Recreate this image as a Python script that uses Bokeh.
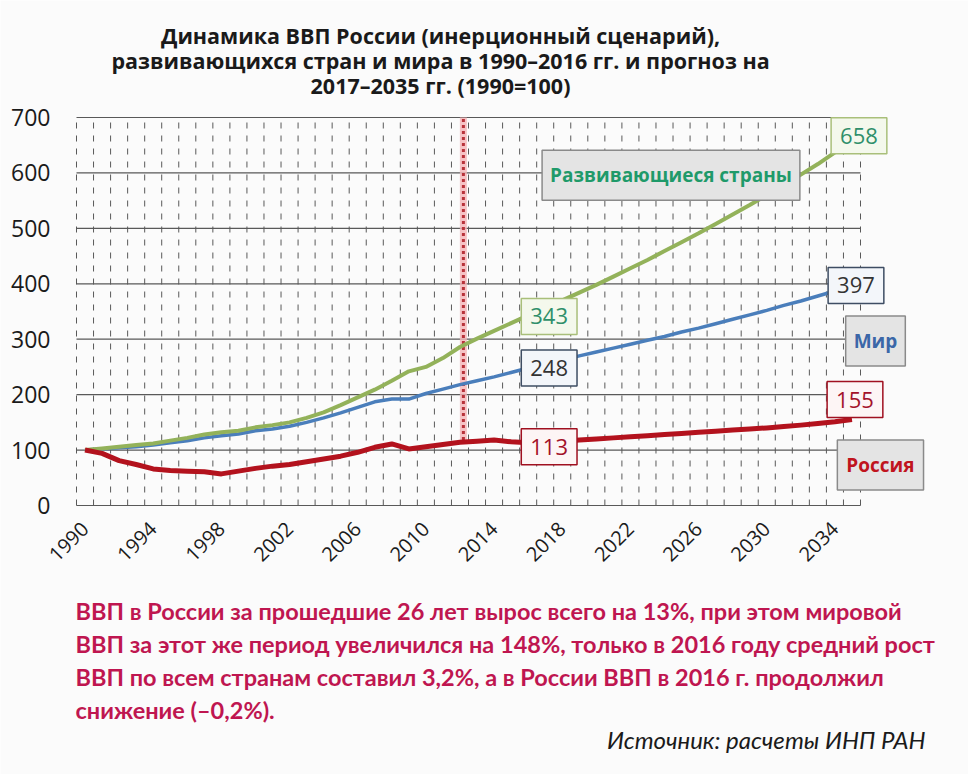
import math
from bokeh.plotting import figure
from bokeh.models import Label, FixedTicker, Range1d
from bokeh.embed import file_html
from bokeh.resources import INLINE

# ---------------- data ----------------
years = list(range(1990, 2036))
russia = [100, 94, 81, 74, 66, 63, 62, 61, 57, 62, 67, 71, 74, 79, 84, 89, 96, 105, 111, 102,
          106, 110, 114, 116, 118, 115, 113,
          114, 116, 118, 120, 122, 124, 126, 128, 130, 132, 134, 136, 138, 140, 142.5, 145, 148, 151, 155]
world = [100, 102, 104, 106, 109, 113, 117, 122, 126, 129, 135, 138, 143, 150, 158, 167, 177, 187, 192, 192,
         202, 210, 218, 225, 232, 240, 248,
         255, 262, 270, 277, 284, 291, 298, 305, 313, 320, 328, 336, 344, 352, 361, 369, 378, 387, 397]
developing = [100, 103, 106, 109, 112, 117, 122, 128, 132, 135, 141, 145, 150, 158, 168, 181, 195, 209, 225, 242,
              250, 266, 286, 301, 315, 329, 343,
              357, 370, 384, 398, 413, 428, 443, 459, 475, 491, 508, 525, 542, 560, 578, 597, 616, 637, 658]
y_ticks = [0, 100, 200, 300, 400, 500, 600, 700]
x_tick_years = [1990, 1994, 1998, 2002, 2006, 2010, 2014, 2018, 2022, 2026, 2030, 2034]
marker_year = 2012.2
marker_top, marker_bottom = 700, 118
value_label_years = [2016, 2016, 2016, 2035, 2035, 2035]
value_label_series = ["developing", "world", "russia", "developing", "world", "russia"]
series_names = ["Развивающиеся страны", "Мир", "Россия"]
series_name_x = [2024.38, 2036.38, 2036.67]
series_name_y = [596, 297, 73]

title_lines = ["Динамика ВВП России (инерционный сценарий),",
               "развивающихся стран и мира в 1990–2016 гг. и прогноз на",
               "2017–2035 гг. (1990=100)"]
note_lines = ["ВВП в России за прошедшие 26 лет вырос всего на 13%, при этом мировой",
              "ВВП за этот же период увеличился на 148%, только в 2016 году средний рост",
              "ВВП по всем странам составил 3,2%, а в России ВВП в 2016 г. продолжил",
              "снижение (–0,2%)."]
source_text = "Источник: расчеты ИНП РАН"

# ---------------- layout / style ----------------
W, H = 968, 774
PLOT_L, PLOT_R, PLOT_T, PLOT_B = 76, 860, 117, 505   # pixel box of the gridded area
BG = "#fbfbfb"
C_RUS = "#b3121d"
C_WLD = "#4a7ebb"
C_DEV = "#93b25a"
GRID = "#595959"
NUM_FONT = "Open Sans"

x_lo, x_hi = years[0] - 0.5, years[-1] + 0.5
y_lo, y_hi = y_ticks[0], y_ticks[-1]
xs = (PLOT_R - PLOT_L) / (x_hi - x_lo)
ys = (PLOT_B - PLOT_T) / (y_hi - y_lo)
x_range = Range1d(x_lo - PLOT_L / xs, x_hi + (W - PLOT_R) / xs)
y_range = Range1d(y_lo - (H - PLOT_B) / ys, y_hi + PLOT_T / ys)

series = {"russia": russia, "world": world, "developing": developing}

p = figure(width=W, height=H, output_backend="svg", toolbar_location=None,
           x_range=x_range, y_range=y_range, min_border=0,
           min_border_left=0, min_border_right=0, min_border_top=0, min_border_bottom=0,
           background_fill_color=BG, border_fill_color=BG, outline_line_color=None)
p.grid.visible = False

# grid
bounds = [y - 0.5 for y in years] + [years[-1] + 0.5]
p.segment(x0=bounds, y0=[y_lo] * len(bounds), x1=bounds, y1=[y_hi] * len(bounds),
          line_color=GRID, line_width=1, line_dash="6 7")
p.segment(x0=[x_lo] * len(y_ticks), y0=y_ticks, x1=[x_hi] * len(y_ticks), y1=y_ticks,
          line_color=GRID, line_width=1.2)

# forecast marker
p.segment(x0=[marker_year], y0=[marker_bottom], x1=[marker_year], y1=[marker_top],
          line_color="#f5b5b8", line_width=7, line_alpha=0.8)
p.segment(x0=[marker_year], y0=[marker_bottom], x1=[marker_year], y1=[marker_top],
          line_color="#b8323a", line_width=3, line_dash="3 3")

# series lines
p.line(years, world, line_color=C_WLD, line_width=3.5, line_join="round")
p.line(years, developing, line_color=C_DEV, line_width=4, line_join="round")
p.line(years, russia, line_color=C_RUS, line_width=5, line_join="round")

# axes, pinned to the gridded area
p.yaxis.fixed_location = x_lo
p.yaxis.ticker = FixedTicker(ticks=y_ticks)
p.yaxis.axis_line_color = None
p.yaxis.major_tick_line_color = None
p.yaxis.minor_tick_line_color = None
p.yaxis.major_label_text_font = NUM_FONT
p.yaxis.major_label_text_font_size = "23px"
p.yaxis.major_label_text_color = "#1a1a1a"
p.yaxis.major_label_standoff = 20

p.xaxis.fixed_location = y_lo
p.xaxis.ticker = FixedTicker(ticks=x_tick_years)
p.xaxis.axis_line_color = None
p.xaxis.major_tick_line_color = None
p.xaxis.minor_tick_line_color = None
p.xaxis.major_label_orientation = math.pi / 4
p.xaxis.major_label_text_font = NUM_FONT
p.xaxis.major_label_text_font_size = "20px"
p.xaxis.major_label_text_color = "#1a1a1a"
p.xaxis.major_label_standoff = 14


def make_label(**kw):
    pad = kw.pop("pad")
    try:
        return Label(padding=pad, **kw)
    except Exception:
        return Label(padding=pad[0] if isinstance(pad, tuple) else 8, **kw)


# value labels
vstyle = {
    "developing": dict(text_color="#2f8f6a", background_fill_color="#f4f8ec", border_line_color="#a9bf7a"),
    "world": dict(text_color="#333333", background_fill_color="#f3f6fa", border_line_color="#3e4d63"),
    "russia": dict(text_color="#a3122a", background_fill_color="#fdf5f5", border_line_color="#a01020"),
}
voff = {("developing", 2016): (21, -1), ("world", 2016): (21, 0), ("russia", 2016): (21, -4),
        ("developing", 2035): (7, 5), ("world", 2035): (4, 0), ("russia", 2035): (3, 20)}
for yr, key in zip(value_label_years, value_label_series):
    v = series[key][years.index(yr)]
    dx, dy = voff[(key, yr)]
    p.add_layout(make_label(x=yr, y=v, x_offset=dx, y_offset=dy, text=f"{v:g}",
                            text_align="center", text_baseline="middle",
                            text_font=NUM_FONT, text_font_size="22px",
                            border_line_width=1.5, pad=(9, 10), **vstyle[key]))

# series name labels
ncolors = ["#1f9a6a", "#3b67a8", "#c0141e"]
npads = [(8, 12), (8, 12), (9, 12)]
for name, nx, ny, col, pad in zip(series_names, series_name_x, series_name_y, ncolors, npads):
    p.add_layout(make_label(x=nx, y=ny, text=name, text_align="center", text_baseline="middle",
                            text_font="Open Sans", text_font_style="bold", text_font_size="19px",
                            text_color=col, background_fill_color="#e4e4e4",
                            border_line_color="#8a8a8a", border_line_width=1.5, pad=pad))

# title, note and source (screen units: origin at bottom-left of the canvas)
for i, t in enumerate(title_lines):
    p.add_layout(Label(x=440, y=H - 35 - 25 * i, x_units="screen", y_units="screen", text=t,
                       text_align="center", text_baseline="middle", text_font="Open Sans",
                       text_font_style="bold", text_font_size="21.5px", text_color="#1a1a1a"))

for i, t in enumerate(note_lines):
    p.add_layout(Label(x=75, y=H - 610 - 33 * i, x_units="screen", y_units="screen", text=t,
                       text_align="left", text_baseline="middle", text_font="Lato",
                       text_font_style="bold", text_font_size="23.5px", text_color="#bf1650"))

p.add_layout(Label(x=925, y=H - 739, x_units="screen", y_units="screen", text=source_text,
                   text_align="right", text_baseline="middle", text_font="Lato",
                   text_font_style="italic", text_font_size="24px", text_color="#1a1a1a"))

open("out.html", "w").write(file_html(p, INLINE))
